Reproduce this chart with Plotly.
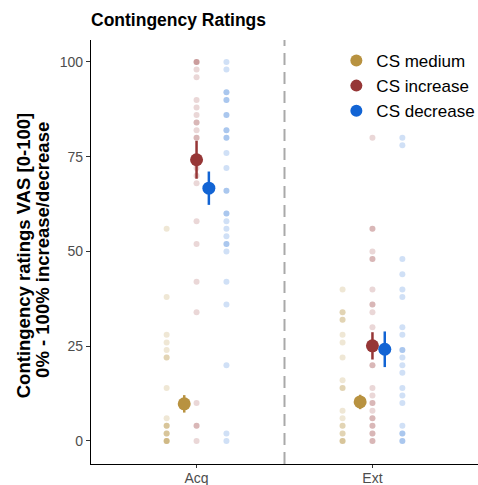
import plotly.graph_objects as go

phases = ["Acq", "Ext"]
conditions = ["CS medium", "CS increase", "CS decrease"]
colors = ["#B89240", "#963636", "#1264D4"]
dots_rgba = ["rgba(184,146,64,0.22)", "rgba(150,54,54,0.2)", "rgba(18,100,212,0.2)"]

# individual ratings per phase/condition
acq_medium = [56, 38, 28, 26, 24, 22, 22, 14, 6, 4, 4, 4, 2, 2, 2, 0, 0, 0, 0]
acq_increase = [100, 100, 100, 98, 96, 90, 88, 86, 84, 84, 82, 80, 80, 72, 70, 68, 58, 52, 42, 34, 10, 4, 4, 0]
acq_decrease = [100, 98, 92, 92, 90, 90, 86, 86, 82, 82, 80, 80, 76, 72, 66, 66, 60, 60, 58, 56, 54, 52, 52,
                50, 42, 36, 20, 2, 0]
ext_medium = [40, 34, 34, 32, 32, 28, 26, 22, 16, 14, 14, 8, 6, 4, 4, 2, 2, 0, 0, 0]
ext_increase = [80, 56, 56, 50, 48, 48, 40, 36, 36, 34, 30, 20, 20, 14, 12, 10, 10, 8, 6, 6, 4, 4, 2, 2, 0, 0]
ext_decrease = [80, 78, 48, 44, 40, 38, 30, 28, 24, 24, 22, 20, 18, 14, 12, 10, 4, 2, 2, 0, 0]

# means and error (per condition, Acq/Ext)
mean_medium = [9.8, 10.3]
mean_increase = [74.2, 25.1]
mean_decrease = [66.7, 24.2]
err_medium = [2.3, 1.9]
err_increase = [5.0, 3.6]
err_decrease = [4.4, 4.7]

title_text = "Contingency Ratings"
ytitle_lines = ["Contingency ratings VAS [0-100]", "0% - 100% increase/decrease"]

raw = {
    "CS medium": [acq_medium, ext_medium],
    "CS increase": [acq_increase, ext_increase],
    "CS decrease": [acq_decrease, ext_decrease],
}
means = {"CS medium": mean_medium, "CS increase": mean_increase, "CS decrease": mean_decrease}
errs = {"CS medium": err_medium, "CS increase": err_increase, "CS decrease": err_decrease}

dot_offsets = [-0.17, 0.0, 0.17]
mean_offsets = [-0.07, 0.0, 0.07]

fig = go.Figure()

for ci, cond in enumerate(conditions):
    xs, ys = [], []
    for pi, phase in enumerate(phases):
        vals = raw[cond][pi]
        xs += [pi + 1 + dot_offsets[ci]] * len(vals)
        ys += vals
    fig.add_trace(go.Scatter(
        x=xs, y=ys, mode="markers", showlegend=False, hoverinfo="skip",
        marker=dict(size=6, color=dots_rgba[ci], line=dict(width=0)),
    ))

for ci, cond in enumerate(conditions):
    fig.add_trace(go.Scatter(
        x=[pi + 1 + mean_offsets[ci] for pi in range(len(phases))],
        y=means[cond], mode="markers", name=cond,
        marker=dict(size=13, color=colors[ci], line=dict(width=0)),
        error_y=dict(type="data", array=errs[cond], color=colors[ci], thickness=2.5, width=0),
    ))

fig.add_shape(type="line", xref="x", yref="paper", x0=1.5, x1=1.5, y0=0, y1=1,
              line=dict(color="#A9A9A9", width=2, dash="12px,7px"), layer="below")

# y-axis title as two rotated lines
for li, (txt, shift, yc) in enumerate(zip(ytitle_lines, [-68, -48], [0.49, 0.505])):
    fig.add_annotation(text="<b>" + txt + "</b>", xref="paper", yref="paper", x=0, y=yc,
                       xanchor="center", yanchor="middle", xshift=shift, textangle=-90,
                       showarrow=False, font=dict(size=18.5, color="black"))

fig.update_layout(
    width=478, height=485,
    margin=dict(l=91, r=0, t=40, b=21, autoexpand=False),
    plot_bgcolor="white", paper_bgcolor="white",
    font=dict(family="Liberation Sans, Arial, sans-serif"),
    title=dict(text="<b>" + title_text + "</b>", x=91 / 478, xanchor="left", xref="container",
               y=0.958, yanchor="middle", font=dict(size=17.5, color="black")),
    xaxis=dict(range=[0.4, 2.6], tickvals=[1, 2], ticktext=phases, showgrid=False, zeroline=False,
               showline=True, linecolor="black", linewidth=1.2, ticks="outside", ticklen=3,
               tickcolor="#333333", tickfont=dict(size=14, color="#4D4D4D"), automargin=False,
               ticklabelstandoff=-2),
    yaxis=dict(range=[-6.07, 105.8], tickvals=[0, 25, 50, 75, 100], showgrid=False, zeroline=False,
               showline=True, linecolor="black", linewidth=1.2, ticks="outside", ticklen=4,
               tickcolor="#333333", tickfont=dict(size=14, color="#4D4D4D"), automargin=False),
    legend=dict(x=0.634, y=0.993, xanchor="left", yanchor="top", bgcolor="rgba(0,0,0,0)",
                font=dict(size=17, color="black"), tracegroupgap=0, itemsizing="constant"),
)

fig.write_html("out.html", config={"displayModeBar": False},
               post_script="document.body.style.margin='0px';")
